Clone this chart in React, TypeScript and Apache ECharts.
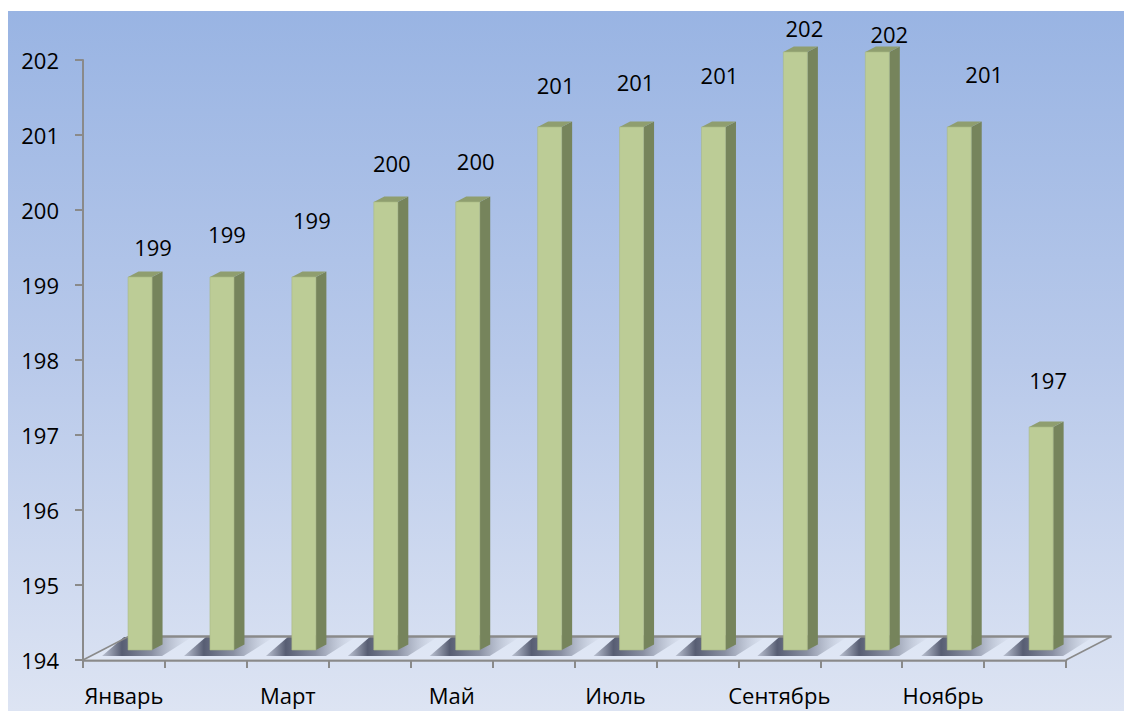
import React, { useEffect, useRef } from "react";
import * as echarts from "echarts";

const MONTHS = ["Январь", "Февраль", "Март", "Апрель", "Май", "Июнь", "Июль", "Август", "Сентябрь", "Октябрь", "Ноябрь", "Декабрь"];
const VALUES = [199, 199, 199, 200, 200, 201, 201, 201, 202, 202, 201, 197];
const Y_MIN = 194;
const Y_MAX = 202;
const Y_STEP = 1;

// label nudges (style only), relative to bar front-top centre
const LABEL_DX = [13, 5, 8, 6, 8, 6, 4, 6, 9, 12, 25, 7];
const LABEL_DY = [-30, -43, -57, -39, -41, -42, -45, -52, -24, -18, -53, -47];

const FONT = "'Open Sans', sans-serif";
const FONT_SIZE = 22;
const FRONT = "#bccc96";
const SIDE = "#76845c";
const TOP = "#8f9e6f";
const AXIS_GRAY = "#8a8a8a";

export default function App() {
  const ref = useRef<HTMLDivElement>(null);
  useEffect(() => {
    if (!ref.current) return;
    const chart = echarts.init(ref.current, undefined, { renderer: "svg" });

    const depthX = 45.5;
    const depthY = -23.5;

    const floorRender = (params: any, api: any) => {
      const bw = api.size([1, 0])[0];
      const l = api.coord([0, Y_MIN]);
      const r = api.coord([MONTHS.length - 1, Y_MIN]);
      const x0 = l[0] - bw / 2;
      const x1 = r[0] + bw / 2;
      const y0 = l[1];
      const children: any[] = [];
      children.push({
        type: "polygon",
        shape: { points: [[x0, y0], [x1, y0], [x1 + depthX, y0 + depthY], [x0 + depthX, y0 + depthY]] },
        style: { fill: "rgba(235,240,250,0.4)" },
      });
      // shadows
      for (let i = 0; i < VALUES.length; i++) {
        const c = api.coord([i, Y_MIN]);
        const fl = c[0] + bw * 0.05;
        const by = c[1] - 10;
        children.push({
          type: "polygon",
          shape: {
            points: [[fl - 26, by + 6], [fl + 34, by + 6], [fl + 64, by - 13], [fl - 4, by - 13]],
          },
          style: {
            fill: new echarts.graphic.LinearGradient(0, 0, 1, 0, [
              { offset: 0, color: "rgba(100,106,126,0.3)" },
              { offset: 0.22, color: "rgba(80,86,108,0.95)" },
              { offset: 0.55, color: "rgba(100,106,126,0.7)" },
              { offset: 1, color: "rgba(160,168,185,0)" },
            ]),
          },
        });
      }
      children.push({
        type: "line",
        shape: { x1: x0 + depthX, y1: y0 + depthY, x2: x1 + depthX, y2: y0 + depthY },
        style: { stroke: AXIS_GRAY, lineWidth: 2.5 },
      });
      children.push({
        type: "line",
        shape: { x1: x0, y1: y0, x2: x0 + depthX, y2: y0 + depthY },
        style: { stroke: AXIS_GRAY, lineWidth: 1.5 },
      });
      children.push({
        type: "line",
        shape: { x1: x1, y1: y0, x2: x1 + depthX, y2: y0 + depthY },
        style: { stroke: AXIS_GRAY, lineWidth: 1.5 },
      });
      return { type: "group", children };
    };

    const barRender = (params: any, api: any) => {
      const i = api.value(0);
      const v = api.value(1);
      const bw = api.size([1, 0])[0];
      const c = api.coord([i, v]);
      const b = api.coord([i, Y_MIN]);
      const fw = bw * 0.293;
      const fl = c[0] + bw * 0.05;
      const fr = fl + fw;
      const top = c[1] - 8;
      const bot = b[1] - 10;
      const dx = 10.5;
      const dy = -5.5;
      return {
        type: "group",
        children: [
          {
            type: "polygon",
            shape: { points: [[fr, top], [fr + dx, top + dy], [fr + dx, bot + dy], [fr, bot]] },
            style: { fill: SIDE },
          },
          {
            type: "polygon",
            shape: { points: [[fl, top], [fl + dx, top + dy], [fr + dx, top + dy], [fr, top]] },
            style: { fill: TOP },
          },
          {
            type: "rect",
            shape: { x: fl, y: top, width: fw, height: bot - top },
            style: { fill: FRONT, stroke: "#a9b985", lineWidth: 0.6 },
          },
          {
            type: "text",
            style: {
              text: String(v),
              x: fl + fw / 2 + LABEL_DX[i],
              y: top + LABEL_DY[i],
              align: "center",
              verticalAlign: "middle",
              fontSize: FONT_SIZE,
              fontFamily: FONT,
              fill: "#000",
            },
          },
        ],
      };
    };

    chart.setOption({
      animation: false,
      backgroundColor: new echarts.graphic.LinearGradient(0, 0, 0, 1, [
        { offset: 0, color: "#99b4e3" },
        { offset: 0.5, color: "#b8c9ea" },
        { offset: 1, color: "#dde4f3" },
      ]),
      grid: { left: 75, right: 58, top: 49, bottom: 51, containLabel: false },
      xAxis: {
        type: "category",
        data: MONTHS,
        boundaryGap: true,
        axisLine: { show: true, lineStyle: { color: AXIS_GRAY, width: 2.5 } },
        axisTick: { show: true, interval: 0, length: 8, lineStyle: { color: AXIS_GRAY, width: 2 } },
        axisLabel: { interval: 1, margin: 24, fontSize: FONT_SIZE, fontFamily: FONT, color: "#000" },
        splitLine: { show: false },
      },
      yAxis: {
        type: "value",
        min: Y_MIN,
        max: Y_MAX,
        interval: Y_STEP,
        axisLine: { show: true, lineStyle: { color: AXIS_GRAY, width: 2 } },
        axisTick: { show: true, length: 8, lineStyle: { color: AXIS_GRAY, width: 2 } },
        axisLabel: { margin: 24, fontSize: FONT_SIZE, fontFamily: FONT, color: "#000" },
        splitLine: { show: false },
      },
      series: [
        {
          type: "custom",
          z: 1,
          renderItem: floorRender,
          data: [[0, Y_MIN]],
          silent: true,
        },
        {
          type: "custom",
          z: 3,
          renderItem: barRender,
          encode: { x: 0, y: 1 },
          data: VALUES.map((v, i) => [i, v]),
        },
      ],
    });
    return () => chart.dispose();
  }, []);
  return (
    <div
      ref={ref}
      style={{ position: "absolute", left: 8, top: 11, width: 1116, height: 700 }}
    />
  );
}
